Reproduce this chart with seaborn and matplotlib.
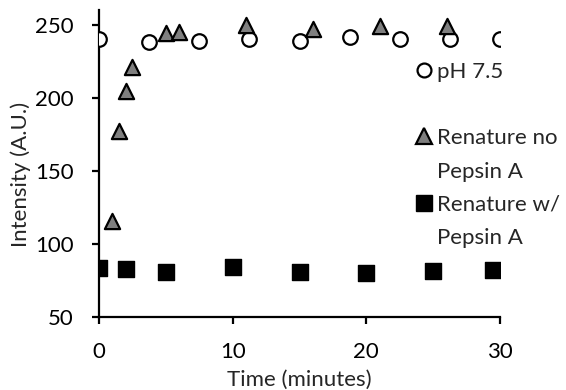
import numpy as np
import pandas as pd
import matplotlib
matplotlib.use('Agg')
import matplotlib.pyplot as plt
import seaborn as sns
from matplotlib.lines import Line2D

# pH 7.5 control
ph_time = [0, 3.75, 7.5, 11.25, 15, 18.75, 22.5, 26.25, 30]
ph_val = [240, 238, 238.7, 240.3, 238.7, 241.5, 240.3, 240.3, 240.3]

# renature without pepsin A
no_time = [1, 1.5, 2, 2.5, 5, 6, 11, 16, 21, 26]
no_val = [116, 177.4, 204.6, 221.2, 244.3, 245, 250, 247, 249.3, 249.3]

# renature with pepsin A
w_time = [0, 2, 5, 10, 15, 20, 25, 29.5]
w_val = [83.3, 82.8, 81, 84, 81, 80.3, 81.4, 82]

x_ticks = [0, 10, 20, 30]
y_ticks = [50, 100, 150, 200, 250]

sns.set_style('white')
plt.rcParams['font.family'] = ['Lato', 'DejaVu Sans']
fs = 16

fig = plt.figure(figsize=(5.66, 3.9), dpi=100)
ax = fig.add_axes([99 / 566, 73 / 390, 401 / 566, 307 / 390])

sns.scatterplot(x=ph_time, y=ph_val, ax=ax, marker='o', s=110, color='white',
                edgecolor='black', linewidth=1.6, zorder=3)
sns.scatterplot(x=no_time, y=no_val, ax=ax, marker='^', s=120, color='#7f7f7f',
                edgecolor='black', linewidth=1.6, zorder=4)
sns.scatterplot(x=w_time, y=w_val, ax=ax, marker='s', s=130, color='black',
                edgecolor='black', linewidth=1, zorder=3)

ax.set_xlim(0, 30)
ax.set_ylim(50, 260)
ax.set_xticks(x_ticks)
ax.set_yticks(y_ticks)
for side in ['top', 'right']:
    ax.spines[side].set_visible(False)
for side in ['left', 'bottom']:
    ax.spines[side].set_linewidth(1.6)
    ax.spines[side].set_color('black')
    ax.spines[side].set_zorder(2)
ax.tick_params(axis='both', direction='out', length=5, width=1.6, color='black',
               labelsize=fs, labelcolor='black', pad=13, left=True, bottom=True)

ax.set_xlabel('Time (minutes)', fontsize=fs, labelpad=6)
ax.set_ylabel('Intensity (A.U.)', fontsize=fs)
ax.yaxis.set_label_coords(-0.170, 0.463)

# legend: one row per text line, marker on the first line
blank = Line2D([], [], linestyle='none')
handles = [
    Line2D([], [], linestyle='none', marker='o', markersize=10, markerfacecolor='white',
           markeredgecolor='black', markeredgewidth=1.6),
    blank,
    Line2D([], [], linestyle='none', marker='^', markersize=11, markerfacecolor='#7f7f7f',
           markeredgecolor='black', markeredgewidth=1.6),
    blank,
    Line2D([], [], linestyle='none', marker='s', markersize=11, markerfacecolor='black',
           markeredgecolor='black'),
    blank,
]
labels = ['pH 7.5', ' ', 'Renature no', 'Pepsin A', 'Renature w/', 'Pepsin A']
ax.legend(handles, labels, loc='upper left', bbox_to_anchor=(0.783, 0.832),
          frameon=False, borderpad=0, borderaxespad=0, handlelength=1.0,
          handletextpad=0.1, labelspacing=0.6, fontsize=fs)

fig.savefig('out.png', dpi=100)
